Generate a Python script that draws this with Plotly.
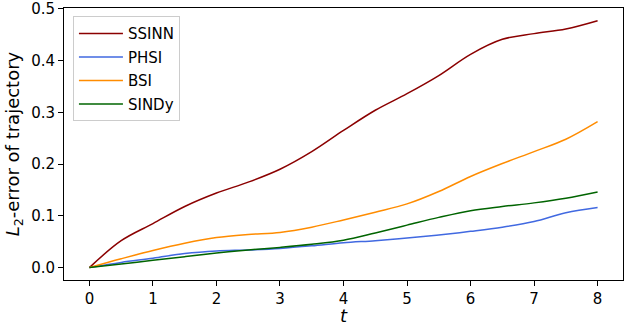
import plotly.graph_objects as go

t = [0, 0.5, 1, 1.5, 2, 2.5, 3, 3.5, 4, 4.5, 5, 5.5, 6, 6.5, 7, 7.5, 8]

ssinn = [0.0, 0.052, 0.085, 0.118, 0.144, 0.165, 0.190, 0.224, 0.265, 0.304, 0.336, 0.371, 0.412, 0.441, 0.452, 0.461, 0.477]
phsi = [0.0, 0.010, 0.018, 0.027, 0.032, 0.034, 0.037, 0.042, 0.048, 0.052, 0.057, 0.063, 0.070, 0.078, 0.089, 0.106, 0.116]
bsi = [0.0, 0.017, 0.033, 0.047, 0.058, 0.064, 0.068, 0.078, 0.092, 0.107, 0.123, 0.147, 0.176, 0.201, 0.224, 0.248, 0.282]
sindy = [0.0, 0.007, 0.014, 0.021, 0.028, 0.034, 0.039, 0.045, 0.053, 0.067, 0.082, 0.097, 0.110, 0.118, 0.125, 0.134, 0.146]

series = [
    ("SSINN", ssinn, "#8B0000"),
    ("PHSI", phsi, "#4169E1"),
    ("BSI", bsi, "#FF8C00"),
    ("SINDy", sindy, "#006400"),
]

fig = go.Figure()
for name, vals, col in series:
    fig.add_trace(go.Scatter(
        x=t, y=vals, name=name, mode="lines", legendgroup=name,
        line=dict(color=col, width=1.5, shape="spline", smoothing=1.0),
    ))

axis_style = dict(
    showline=True, linecolor="black", linewidth=1, mirror=True,
    showgrid=False, zeroline=False, automargin=False,
    ticks="outside", ticklen=5, tickwidth=1, tickcolor="black",
    ticklabeloverflow="allow",
)

fig.update_xaxes(range=[-0.4, 8.4], dtick=1, tick0=0, title=dict(text="<i>t</i>", standoff=5), **axis_style)
fig.update_yaxes(range=[-0.024, 0.5015], dtick=0.1, tick0=0, tickformat=".1f",
                 title=dict(text="<i>L</i><sub>2</sub>-error of trajectory", standoff=6), **axis_style)

fig.update_layout(
    width=624, height=326,
    margin=dict(l=64, r=1, t=8, b=46),
    paper_bgcolor="white", plot_bgcolor="white",
    font=dict(family="DejaVu Sans", size=15, color="black"),
    legend=dict(
        x=0.016, y=0.97, xanchor="left", yanchor="top",
        bgcolor="white", bordercolor="#cccccc", borderwidth=1,
        font=dict(size=15), itemwidth=44, tracegroupgap=1,
    ),
    showlegend=True,
)

fig.write_html("out.html", config={"displayModeBar": False},
               post_script="document.body.style.margin='0';")
